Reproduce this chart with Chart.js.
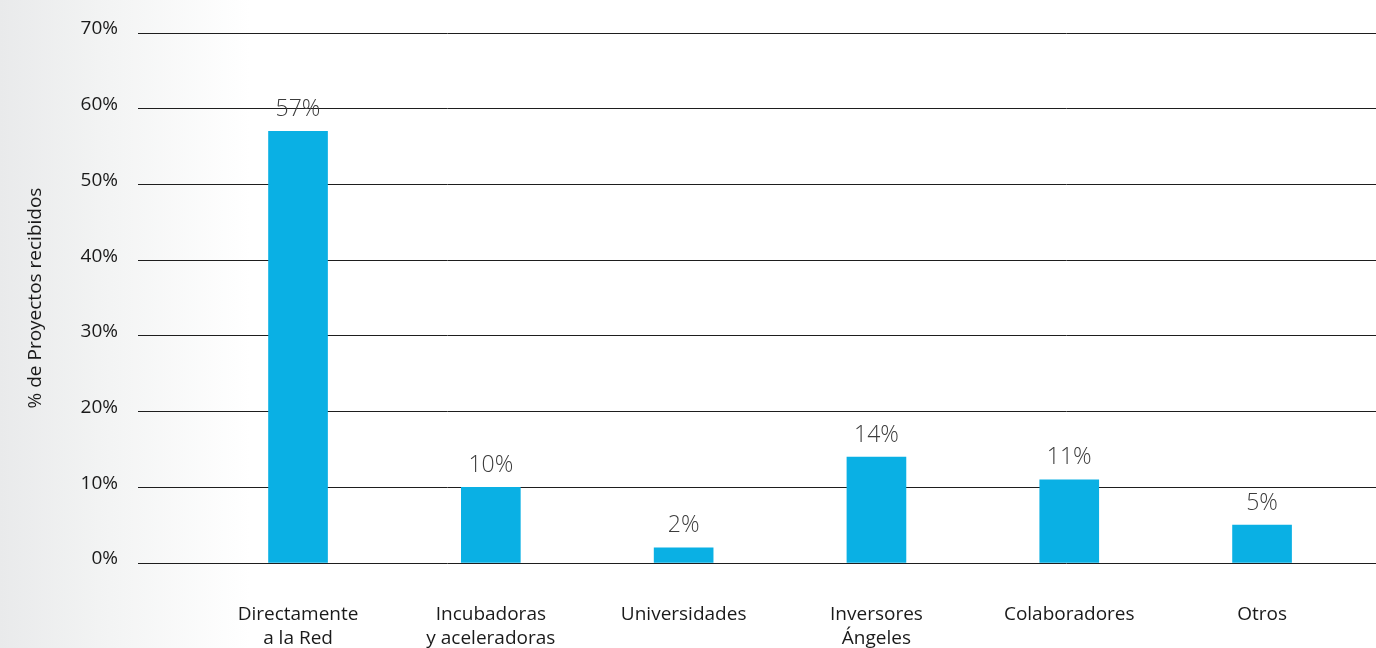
<!DOCTYPE html>
<html>
<head>
<meta charset="utf-8">
<script src="https://cdn.jsdelivr.net/npm/chart.js@4.4.1/dist/chart.umd.min.js"></script>
<style>
  html, body { margin: 0; padding: 0; }
  body {
    width: 1376px; height: 648px; overflow: hidden;
    background: linear-gradient(to right, #e9eaeb 0px, #f3f4f4 110px, #ffffff 250px, #ffffff 100%);
  }
  #wrap { position: relative; width: 1376px; height: 648px; }
</style>
</head>
<body>
<div id="wrap"><canvas id="c"></canvas></div>
<script>
// Origen de los proyectos recibidos (% del total)
const categories = [
  ['Directamente', 'a la Red'],
  ['Incubadoras', 'y aceleradoras'],
  ['Universidades'],
  ['Inversores', 'Ángeles'],
  ['Colaboradores'],
  ['Otros']
];
const values = [57, 10, 2, 14, 11, 5];
const yTicks = [0, 10, 20, 30, 40, 50, 60, 70];

const FONT = '"Open Sans", "Noto Sans", sans-serif';

// value labels above each bar
const valueLabels = {
  id: 'valueLabels',
  afterDatasetsDraw(chart) {
    const ctx = chart.ctx;
    const meta = chart.getDatasetMeta(0);
    ctx.save();
    ctx.font = '300 23px ' + FONT;
    ctx.fillStyle = '#3c3c3c';
    ctx.textAlign = 'center';
    ctx.textBaseline = 'middle';
    meta.data.forEach((bar, i) => {
      ctx.fillText(values[i] + '%', bar.x, bar.y - 22);
    });
    ctx.restore();
  }
};

new Chart(document.getElementById('c'), {
  type: 'bar',
  data: {
    datasets: [{
      data: values.map((v, i) => ({ x: i, y: v })),
      backgroundColor: '#0ab0e4',
      borderWidth: 0,
      barThickness: 59
    }]
  },
  options: {
    responsive: true,
    maintainAspectRatio: false,
    animation: false,
    events: [],
    layout: { padding: { top: 33, right: 0, bottom: 0, left: 0 } },
    plugins: { legend: { display: false }, tooltip: { enabled: false } },
    scales: {
      x: {
        type: 'linear',
        offset: false,
        min: -0.83,
        max: 5.591,
        grid: { display: false },
        border: { display: false },
        afterBuildTicks(scale) {
          scale.ticks = categories.map((_, i) => ({ value: i }));
        },
        afterFit(scale) { scale.height = 85; },
        ticks: {
          autoSkip: false,
          maxRotation: 0,
          padding: 32,
          color: '#1a1a1a',
          font: { family: FONT, size: 19, lineHeight: '24px' },
          callback: (v) => categories[v] || ''
        }
      },
      y: {
        min: 0,
        max: 70,
        afterBuildTicks(scale) {
          scale.ticks = yTicks.map(v => ({ value: v }));
        },
        afterFit(scale) { scale.width = 138; },
        border: { display: false },
        grid: { color: '#1e1e1e', lineWidth: 1, drawTicks: false },
        ticks: {
          padding: 20,
          labelOffset: -4,
          color: '#1a1a1a',
          font: { family: FONT, size: 19 },
          callback: (v) => v + '%'
        },
        title: {
          display: true,
          text: '% de Proyectos recibidos',
          color: '#1a1a1a',
          font: { family: FONT, size: 19 },
          padding: { top: 24, bottom: 0 }
        }
      }
    }
  },
  plugins: [valueLabels]
});
</script>
</body>
</html>
